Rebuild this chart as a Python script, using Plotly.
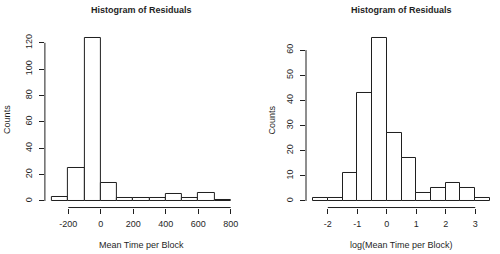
import plotly.graph_objects as go

# Left histogram: residuals of Mean Time per Block
left_bin_starts = [-300, -200, -100, 0, 100, 200, 300, 400, 500, 600, 700]
left_bin_width = 100
left_counts = [3, 25, 124, 14, 2, 2, 2, 5, 2, 6, 1]
left_xticks = [-200, 0, 200, 400, 600, 800]
left_yticks = [0, 20, 40, 60, 80, 100, 120]

# Right histogram: residuals of log(Mean Time per Block)
right_bin_starts = [-2.5, -2.0, -1.5, -1.0, -0.5, 0.0, 0.5, 1.0, 1.5, 2.0, 2.5, 3.0]
right_bin_width = 0.5
right_counts = [1, 1, 11, 43, 65, 27, 17, 3, 5, 7, 5, 1]
right_xticks = [-2, -1, 0, 1, 2, 3]
right_yticks = [0, 10, 20, 30, 40, 50, 60]

INK = "#1f1f1f"
FONT = "Liberation Sans, Arial, Helvetica, sans-serif"


def ext(lo, hi):
    d = (hi - lo) * 0.04
    return [lo - d, hi + d]


fig = go.Figure()

panels = [
    ("x", "y", left_bin_starts, left_bin_width, left_counts, left_xticks, left_yticks,
     [0.0898, 0.4756], "Mean Time per Block"),
    ("x2", "y2", right_bin_starts, right_bin_width, right_counts, right_xticks, right_yticks,
     [0.612, 0.994], "log(Mean Time per Block)"),
]

ydom = [0.183, 0.878]
annotations = []
shapes = []
for i, (xa, ya, starts, w, counts, xt, yt, xdom, xtitle) in enumerate(panels):
    centers = [s + w / 2 for s in starts]
    fig.add_trace(go.Bar(
        x=centers, y=counts, width=[w] * len(counts),
        marker=dict(color="white", line=dict(color=INK, width=1)),
        xaxis=xa, yaxis=ya, showlegend=False, hoverinfo="x+y",
    ))
    suffix = "" if i == 0 else "2"
    xr = ext(starts[0], starts[-1] + w)
    yr = ext(0, max(counts))
    fig.update_layout(**{
        "xaxis" + suffix: dict(
            domain=xdom, range=xr, anchor=ya,
            tickvals=xt, ticktext=[str(v) for v in xt],
            ticks="outside", ticklen=5, tickwidth=1, tickcolor=INK,
            showline=False, showgrid=False, zeroline=False,
            tickfont=dict(size=9, color=INK, family=FONT),
            ticklabelstandoff=3,
        ),
        "yaxis" + suffix: dict(
            domain=ydom, range=yr, anchor=xa,
            tickvals=yt, ticktext=[str(v) for v in yt],
            ticks="outside", ticklen=5, tickwidth=1, tickcolor=INK,
            showline=False, showgrid=False, zeroline=False,
            tickangle=-90,
            tickfont=dict(size=9, color=INK, family=FONT),
            ticklabelstandoff=3,
        ),
    })
    xref_dom = xa + " domain"
    yref_dom = ya + " domain"
    # axis lines spanning only the tick range (R style)
    shapes.append(dict(type="line", xref=xa, yref=yref_dom,
                       x0=xt[0], x1=xt[-1], y0=0, y1=0,
                       line=dict(color=INK, width=1)))
    shapes.append(dict(type="line", xref=xref_dom, yref=ya,
                       x0=0, x1=0, y0=yt[0], y1=yt[-1],
                       line=dict(color=INK, width=1)))
    cx = (xdom[0] + xdom[1]) / 2
    annotations.append(dict(text="<b>Histogram of Residuals</b>", xref="paper", yref="paper",
                            x=cx, y=0.961, showarrow=False, xanchor="center", yanchor="middle",
                            font=dict(size=9, color=INK, family=FONT)))
    annotations.append(dict(text=xtitle, xref="paper", yref="paper",
                            x=cx, y=0.035, showarrow=False, xanchor="center", yanchor="middle",
                            font=dict(size=9, color=INK, family=FONT)))
    ylab_x = 7 / 500 if i == 0 else 271.7 / 500
    annotations.append(dict(text="Counts", xref="paper", yref="paper",
                            x=ylab_x, y=0.528, showarrow=False, textangle=-90,
                            xanchor="center", yanchor="middle",
                            font=dict(size=9, color=INK, family=FONT)))

fig.update_layout(
    width=500, height=254,
    margin=dict(l=0, r=0, t=0, b=0),
    paper_bgcolor="white", plot_bgcolor="white",
    bargap=0, annotations=annotations, shapes=shapes,
    font=dict(family=FONT, color=INK),
)

fig.write_html(
    "out.html",
    config={"displayModeBar": False},
    post_script="document.body.style.margin='0';document.body.style.padding='0';",
)
